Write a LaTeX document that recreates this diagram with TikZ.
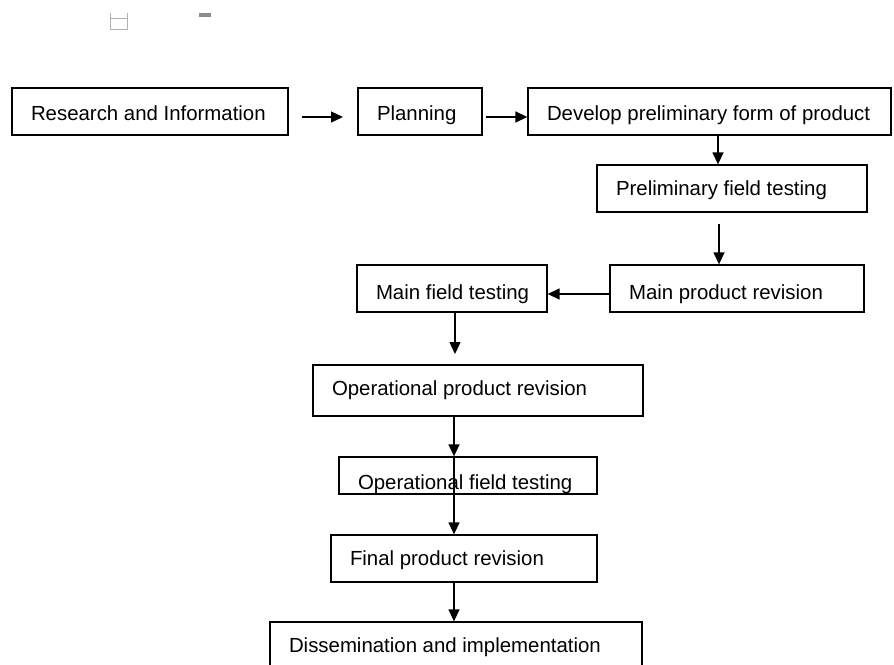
\documentclass[tikz,border=0pt]{standalone}
\usepackage{fontspec}
\setmainfont{Liberation Sans}
\usetikzlibrary{arrows.meta}
\tikzset{
  stepbox/.style={draw, line width=1.3pt, inner xsep=19pt, inner ysep=0pt,
    text depth=0pt, font=\fontsize{20.4}{24}\selectfont},
  flow/.style={line width=1.4pt, -{Triangle[length=12pt,width=11pt]}},
  graymark/.style={draw=gray!60, line width=1pt}
}
% name, left, top, right, bottom, baseline, text
\newcommand\mkbox[7]{%
  \pgfmathsetmacro\bxcx{(#2+#4)/2}%
  \pgfmathsetmacro\bxcy{(#3+#5)/2}%
  \pgfmathsetmacro\bxw{#4-#2}%
  \pgfmathsetmacro\bxh{#5-#3}%
  \pgfmathsetmacro\bxtw{#4-#2-38}%
  \pgfmathsetmacro\bxth{2*(#6-(#3+#5)/2)}%
  \node[stepbox, minimum width=\bxw pt, minimum height=\bxh pt,
        text height=\bxth pt] (#1) at (\bxcx,\bxcy) {\makebox[\bxtw pt][l]{#7}};}
\begin{document}
\begin{tikzpicture}[x=1pt,y=-1pt]
\useasboundingbox (0,0) rectangle (894,664);
\clip (0,0) rectangle (894,664);
\fill[white] (0,0) rectangle (894,664);
% small marks at top
\draw[graymark] (110,13) -- (110,29) -- (127,29) -- (127,13);
\draw[graymark] (110,18.5) -- (127,18.5);
\fill[gray!90] (199,13) rectangle (211,16.5);
% boxes
\mkbox{ri}{12}{88}{288}{135}{120}{Research and Information}
\mkbox{pl}{358}{88}{482}{135}{120}{Planning}
\mkbox{dp}{528}{88}{891}{135}{120}{Develop preliminary form of product}
\mkbox{pft}{597}{165}{867}{212}{195}{Preliminary field testing}
\mkbox{mpr}{610}{265}{864}{312}{299}{Main product revision}
\mkbox{mft}{357}{265}{547}{312}{299}{Main field testing}
\mkbox{opr}{313}{365}{643}{416}{395}{Operational product revision}
\begin{scope}
\clip (0,0) rectangle (894,494.7);
\mkbox{oft}{339}{457}{597}{494}{489}{Operational field testing}
\end{scope}
\mkbox{fpr}{331}{535}{597}{582}{565}{Final product revision}
\mkbox{di}{270}{622}{642}{680}{652}{Dissemination and implementation}
% helper coordinates
\coordinate (a1s) at (302,117);
\coordinate (a1e) at (343,117);
\coordinate (a2s) at (486,117);
\coordinate (x718) at (718,0);
\coordinate (a4s) at (719,224);
\coordinate (y294) at (0,294);
\coordinate (x455) at (455,0);
\coordinate (a6e) at (455,354);
\coordinate (x454) at (454,0);
% connectors
\draw[flow] (a1s) -- (a1e);
\draw[flow] (a2s) -- (a2s -| dp.west);
\draw[flow] (x718 |- dp.south) -- (x718 |- pft.north);
\draw[flow] (a4s) -- (a4s |- mpr.north);
\draw[flow] (mpr.west |- y294) -- (mft.east |- y294);
\draw[flow] (x455 |- mft.south) -- (a6e);
\draw[flow] (x454 |- opr.south) -- (x454 |- oft.north);
\draw[flow] (x454 |- oft.north) -- (x454 |- fpr.north);
\draw[flow] (x454 |- fpr.south) -- (x454 |- di.north);
\end{tikzpicture}
\end{document}
